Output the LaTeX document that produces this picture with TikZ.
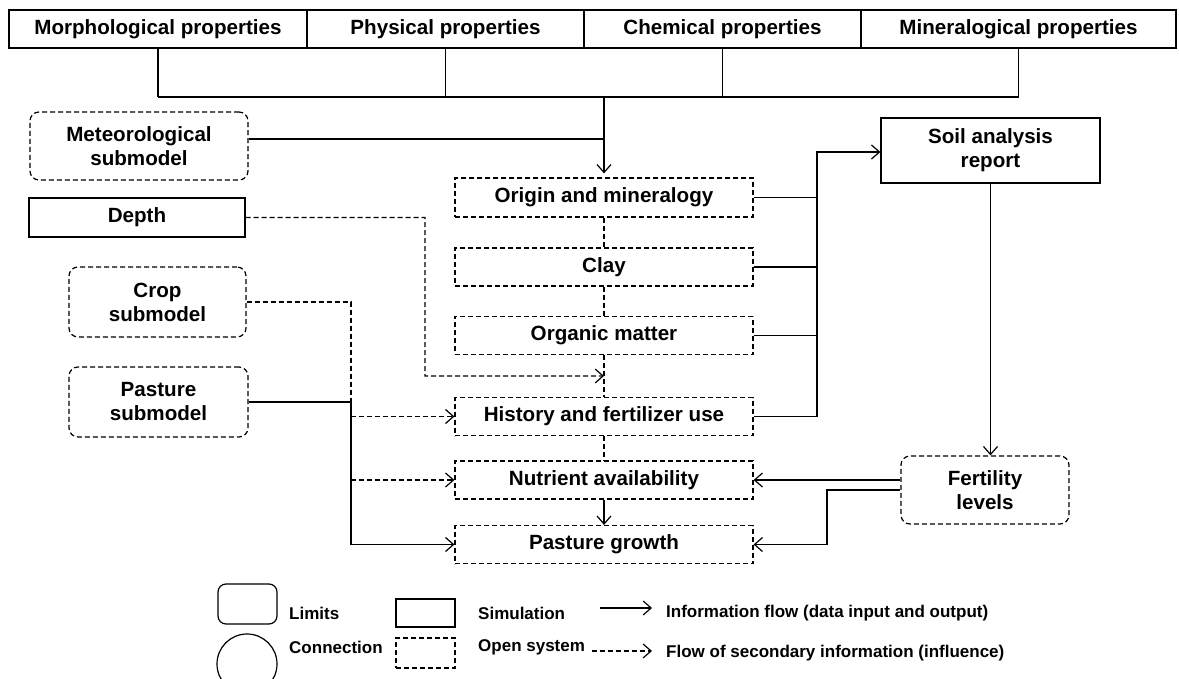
\documentclass[tikz,border=0pt]{standalone}
\usepackage{fontspec}
\setmainfont{Liberation Sans}
\usetikzlibrary{arrows.meta,calc}
\begin{document}
\begin{tikzpicture}[x=1pt,y=-1pt,
  every node/.style={font=\bfseries\fontsize{20.6}{24}\selectfont, align=center, inner sep=0pt},
  legendtext/.style={font=\bfseries\fontsize{17}{20}\selectfont, anchor=west},
  simbox/.style={draw, line width=1.2pt},
  openbox/.style={draw, line width=1.2pt, dash pattern=on 5pt off 3pt},
  limitbox/.style={openbox, rounded corners=9pt},
  tip/.style={-{Straight Barb[length=8pt,width=14pt,line width=1.2pt]}},
  link/.style={line width=1.2pt},
  flow/.style={link, tip},
  inflink/.style={line width=1.2pt, dash pattern=on 5pt off 3pt},
  infl/.style={inflink, tip}
]
\path[use as bounding box] (0,0) rectangle (1179,679);
\clip (0,0) rectangle (1179,679);

% property header
\node[simbox, minimum width=298pt, minimum height=38pt] (morph) at (158,29) {Morphological properties};
\node[simbox, minimum width=277pt, minimum height=38pt] (phys) at (445.5,29) {Physical properties};
\node[simbox, minimum width=277pt, minimum height=38pt] (chem) at (722.5,29) {Chemical properties};
\node[simbox, minimum width=315pt, minimum height=38pt] (mine) at (1018.5,29) {Mineralogical properties};

% inputs on the left
\node[limitbox, minimum width=218pt, minimum height=68pt] (meta) at (139,146) {Meteorological\\submodel};
\node[simbox, minimum width=216pt, minimum height=39pt] (depth) at (137,217.5) {Depth};
\node[limitbox, minimum width=177pt, minimum height=70pt] (crop) at (157.5,302) {Crop\\submodel};
\node[limitbox, minimum width=179pt, minimum height=70pt] (pasm) at (158.5,402) {Pasture\\submodel};

% central column
\node[openbox, minimum width=298pt, minimum height=39pt] (origin) at (604,197.5) {Origin and mineralogy};
\node[openbox, minimum width=298pt, minimum height=38pt] (clay) at (604,267) {Clay};
\node[openbox, minimum width=298pt, minimum height=38pt] (org) at (604,335.5) {Organic matter};
\node[openbox, minimum width=298pt, minimum height=38pt] (hist) at (604,416.5) {History and fertilizer use};
\node[openbox, minimum width=298pt, minimum height=38pt] (nut) at (604,480) {Nutrient availability};
\node[openbox, minimum width=298pt, minimum height=38pt] (pg) at (604,544.5) {Pasture growth};

% right side
\node[simbox, minimum width=219pt, minimum height=65pt] (soil) at (990.5,150.5) {Soil analysis\\report};
\node[limitbox, minimum width=168pt, minimum height=68pt] (fert) at (985,490) {Fertility\\levels};

% header bus into the column
\coordinate (bus) at (604,97);
\foreach \p in {morph,phys,chem,mine}
  \draw[link] (\p.south) -- (\p.south |- bus);
\draw[link] (morph.south |- bus) -- (mine.south |- bus);
\draw[flow, shorten >=4pt] (bus) -- (origin.north);
\draw[link] ([yshift=7pt]meta.east) -- ([yshift=7pt]meta.east -| bus);

% links down the column
\draw[inflink] (origin.south) -- (clay.north);
\draw[inflink] (clay.south) -- (org.north);
\draw[inflink] (org.south) -- (hist.north);
\draw[inflink] (hist.south) -- (nut.north);
\draw[flow] (nut.south) -- (pg.north);

% collector to the soil analysis report
\coordinate (rbus) at (817,152);
\draw[link] (origin.east) -- (origin.east -| rbus);
\draw[link] (clay.east) -- (clay.east -| rbus);
\draw[link] (org.east) -- (org.east -| rbus);
\draw[flow] (hist.east) -| (rbus) -- (rbus -| soil.west);

% fertility levels
\draw[flow] (soil.south) -- (soil.south |- fert.north);
\draw[flow] (fert.west |- nut.east) -- (nut.east);
\coordinate (fb) at (827,490);
\draw[flow] (fert.west) -- (fb) |- (pg.east);

% depth influence
\coordinate (dtip) at ($(org.south)!0.5!(hist.north)$);
\coordinate (dcol) at (425,376);
\draw[infl] (depth.east) -| (dcol) -- (dtip);

% crop and pasture submodels
\coordinate (ccol) at (351,0);
\draw[inflink] (crop.east) -| (ccol |- nut.west);
\draw[infl] (ccol |- hist.west) -- (hist.west);
\draw[infl] (ccol |- nut.west) -- (nut.west);
\draw[flow] (pasm.east) -| (ccol |- pg.west) -- (pg.west);

% legend
\node[simbox, rounded corners=8pt, minimum width=59pt, minimum height=40pt] (lgLim) at (247.5,604) {};
\node[draw, line width=1.2pt, circle, minimum size=60pt] (lgCon) at (247,664) {};
\node[simbox, minimum width=59pt, minimum height=28pt] (lgSim) at (425.5,613) {};
\node[openbox, minimum width=59pt, minimum height=30pt] (lgOpen) at (425.5,653) {};
\node[legendtext] (tLim) at (289,613) {Limits};
\node[legendtext] (tCon) at (289,647) {Connection};
\node[legendtext] (tSim) at (478,613) {Simulation};
\node[legendtext] (tOpen) at (478,647) {Open system};
\node[legendtext] (tFlow) at (666,613) {Information flow (data input and output)};
\node[legendtext] (tInfl) at (666,653) {Flow of secondary information (influence)};
\coordinate (fA) at (600,608);
\coordinate (fB) at (652,608);
\coordinate (iA) at (592,651);
\coordinate (iB) at (652,651);
\draw[flow] (fA) -- (fB);
\draw[infl] (iA) -- (iB);
\end{tikzpicture}
\end{document}
